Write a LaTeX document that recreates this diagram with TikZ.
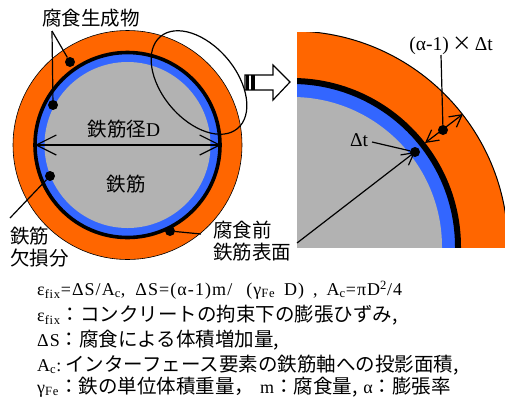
\documentclass[tikz,border=0pt]{standalone}
\usepackage{fontspec}
\setmainfont{Liberation Serif}
\newfontfamily\jpfont{Noto Sans CJK JP}
\newfontfamily\eqfont[LetterSpace=6]{Liberation Serif}
\usetikzlibrary{arrows.meta}
\definecolor{rustcol}{RGB}{255,102,0}
\definecolor{losscol}{RGB}{51,102,255}
\definecolor{barcol}{RGB}{178,178,178}
\tikzset{
  dot/.style={circle, fill=black, inner sep=0pt, minimum size=10pt},
  lbl/.style={inner sep=0pt, font=\jpfont\fontsize{19.5}{20}\selectfont},
  eqn/.style={lbl, anchor=west},
  lead/.style={line width=1.2pt},
  barb/.style={line width=1.2pt, -{Straight Barb[length=12pt,width=13pt]}},
}
\newcommand{\lat}[1]{{\eqfont\fontsize{18}{20}\selectfont #1}}
\begin{document}
\begin{tikzpicture}[x=1pt, y=-1pt]
  \useasboundingbox (0,0) rectangle (505,400);

  % Left: bar section
  \fill[rustcol] (127.5,145) circle (114.5pt);
  \draw[line width=.6pt] (127.5,145) circle (114.5pt);
  \fill[losscol] (127.5,145) circle (92pt);
  \fill[barcol] (127.5,145) circle (83pt);
  \draw[line width=3.6pt] (127.5,145) circle (92.5pt);
  \draw[line width=1.2pt, rotate around={-50:(199,82.5)}] (199,82.5) ellipse [x radius=60pt, y radius=37pt];

  % Left: labels and dots
  \node[lbl] (rust) at (91,18) {腐食生成物};
  \node[lbl] (dia) at (124,129) {鉄筋径{\fontsize{19.5}{20}\rmfamily D}};
  \node[lbl] (bar) at (126,184) {鉄筋};
  \node[lbl, anchor=west] (before1) at (213,230) {腐食前};
  \node[lbl, anchor=west] (before2) at (213,252) {鉄筋表面};
  \node[lbl, anchor=west] (loss1) at (10,236) {鉄筋};
  \node[lbl, anchor=west] (loss2) at (10,258) {欠損分};
  \node[dot] (d1) at (70,62) {};
  \node[dot] (d2) at (53,105) {};
  \node[dot] (d3) at (50,176) {};
  \node[dot] (d4) at (170,231) {};
  \coordinate (fork) at (52,31);
  \coordinate (lossend) at (10,218);
  \coordinate (beforeend) at (201,234);
  \coordinate (diaL) at (35,145);
  \coordinate (diaR) at (221,145);

  \draw[lead] (fork) -- (d1);
  \draw[lead] (fork) -- (d2);
  \draw[lead] (lossend) -- (d3);
  \draw[lead] (beforeend) -- (d4);
  \draw[line width=1.2pt, {Straight Barb[length=20pt,width=20pt]}-{Straight Barb[length=20pt,width=20pt]}] (diaL) -- (diaR);

  % Block arrow
  \draw[fill=white, line width=1.2pt] (245,75) -- (273,75) -- (273,65) -- (290,82) -- (273,100) -- (273,90) -- (245,90) -- cycle;
  \fill (246,75) rectangle (249,90);
  \fill (251,75) rectangle (254.5,90);

  % Right: enlarged part
  \begin{scope}
    \clip (297,32) rectangle (505,247);
    \fill[rustcol] (292,247) circle (216pt);
    \draw[line width=1pt] (292,247) circle (216pt);
    \fill[losscol] (292,247) circle (166pt);
    \fill[barcol] (292,247) circle (150pt);
    \draw[line width=6pt] (292,247) circle (166pt);
  \end{scope}

  \node[lbl, font=\fontsize{19.5}{20}\selectfont] (dalpha) at (451,46) {(α-1){\jpfont\,×\,}Δt};
  \node[lbl, font=\fontsize{19.5}{20}\selectfont] (dt) at (359,140) {Δt};
  \node[dot] (d5) at (443,130) {};
  \node[dot] (d6) at (415,152) {};
  \coordinate (dalphaend) at (441,55);
  \coordinate (dtend) at (372,142);
  \coordinate (origin) at (297,243);
  \coordinate (ringpt) at (425,143);
  \coordinate (outerpt) at (463,114);

  \draw[lead] (dalphaend) -- (d5);
  \draw[lead] (dtend) -- (d6);
  \draw[barb] (origin) -- (d6.center);
  \draw[barb, {Straight Barb[length=12pt,width=13pt]}-{Straight Barb[length=12pt,width=13pt]}] (ringpt) -- (outerpt);

  % Bottom: notation
  \node[eqn] (eq1) at (37,290) {\lat{ε\textsubscript{fix}=ΔS/A\textsubscript{c},\hspace{10pt}ΔS=(α-1)m/\hspace{14pt}(γ\textsubscript{Fe}\hspace{9pt}D)\hspace{9pt},\hspace{9pt}A\textsubscript{c}=πD\textsuperscript{2}/4}};
  \node[eqn] (eq2) at (37,315) {\lat{ε\textsubscript{fix}}：コンクリートの拘束下の膨張ひずみ,};
  \node[eqn] (eq3) at (37,340) {\lat{ΔS}：腐食による体積増加量,};
  \node[eqn] (eq4) at (37,365) {\lat{A\textsubscript{c}:}\hspace{4pt}インターフェース要素の鉄筋軸への投影面積,};
  \node[eqn] (eq5) at (37,387) {\lat{γ\textsubscript{Fe}}：鉄の単位体積重量，\hspace{6pt}\lat{m}：腐食量,\hspace{6pt}\lat{α}：膨張率};
\end{tikzpicture}
\end{document}
